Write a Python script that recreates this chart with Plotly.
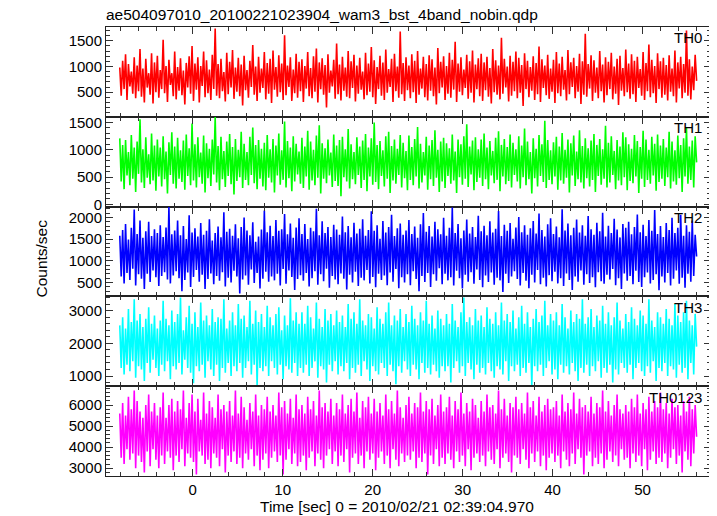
import numpy as np
import plotly.graph_objects as go
from plotly.subplots import make_subplots

title_text = "ae504097010_20100221023904_wam3_bst_4band_nobin.qdp"
x_label = "Time [sec] 0 = 2010/02/21 02:39:04.970"
y_label = "Counts/sec"
band_names = ["TH0", "TH1", "TH2", "TH3", "TH0123"]
t_start, t_end = -8.1, 56.0

th0 = [980, 430, 1110, 560, 1240, 350, 1050, 610, 900, 470, 1180, 380, 1020, 520, 1340, 410, 960, 300, 1150, 590, 870, 450, 1260, 280, 1080,
       500, 1210, 390, 930, 560, 1520, 480, 1010, 310, 1130, 640, 870, 420, 1290, 360, 990, 530, 1160, 440, 920, 260, 1070, 590, 1200, 470,
       1400, 330, 1060, 550, 1180, 300, 1010, 620, 1290, 400, 1120, 480, 940, 350, 1230, 560, 1740, 430, 1050, 380, 1150, 520, 890, 320, 1270,
       460, 1090, 590, 1320, 370, 980, 510, 1170, 420, 1040, 240, 1210, 540, 930, 390, 1110, 600, 1420, 450, 1000, 330, 1190, 490, 960, 580,
       1280, 360, 1070, 470, 1150, 290, 1310, 550, 990, 410, 1220, 500, 1060, 350, 1610, 440, 1020, 600, 1180, 330, 940, 480, 1250, 390, 1090,
       520, 1140, 310, 1010, 570, 1280, 420, 970, 380, 1200, 510, 1350, 300, 1080, 560, 1160, 450, 1030, 200, 1240, 490, 920, 610, 1130, 370,
       1450, 460, 1040, 340, 1190, 530, 980, 410, 1300, 380, 1100, 580, 1230, 320, 1020, 470, 1170, 550, 900, 360, 1270, 440, 1060, 510, 1380,
       400, 1120, 270, 990, 560, 1210, 430, 1080, 350, 1330, 490, 950, 600, 1150, 310, 1250, 520, 1000, 390, 1680, 460, 1070, 330, 1180, 540,
       1020, 380, 1240, 500, 1110, 290, 1300, 450, 960, 570, 1190, 400, 1050, 340, 1220, 530, 1140, 420, 980, 260, 1360, 480, 1090, 590, 1200,
       350, 1010, 470, 1270, 390, 1130, 550, 1480, 310, 1060, 510, 1180, 440, 940, 580, 1230, 370, 1100, 490, 1310, 300, 1040, 560, 1160, 420,
       1250, 330, 1080, 540, 1190, 410, 970, 280, 1340, 500, 1120, 450, 1020, 360, 1560, 470, 1150, 590, 1000, 320, 1210, 430, 1090, 520, 1290,
       380, 1170, 490, 1030, 230, 1260, 560, 1110, 400, 990, 530, 1200, 350, 1070, 460, 1390, 310, 1140, 580, 1020, 440, 1230, 370, 960, 510,
       1130, 290, 1280, 480, 1060, 420, 1190, 550, 930, 340, 1320, 460, 1080, 600, 1170, 380, 1010, 510, 1250, 270, 1100, 450, 1640, 410, 1050,
       570, 1220, 330, 1120, 490, 980, 380, 1300, 520, 1040, 300, 1180, 440, 1090, 560, 1270, 360, 1000, 470, 1150, 250, 1210, 530, 970, 420,
       1330, 500, 1060, 370, 1240, 460, 1110, 310, 1190, 580, 950, 430, 1280, 350, 1070, 520, 1430, 400, 1130, 480, 1010, 290, 1260, 560, 1100,
       390, 1170, 450, 1030, 340, 1220, 510, 960, 420, 1310, 300, 1080, 570, 1190, 380, 1050, 490, 1700, 430, 1140, 360, 1000, 540, 1230, 720]

th1 = [1210, 420, 1090, 280, 1180, 530, 960, 350, 1270, 470, 1040, 230, 1150, 560, 1560, 400, 1010, 300, 1230, 490, 920, 370, 1300, 440, 1080,
       250, 1190, 510, 1040, 330, 1250, 460, 970, 200, 1140, 540, 1320, 380, 1060, 290, 1220, 470, 990, 410, 1170, 270, 1280, 520, 1030, 350,
       1480, 440, 1100, 310, 1230, 500, 950, 380, 1260, 220, 1120, 480, 1020, 340, 1190, 550, 1600, 400, 1070, 260, 1240, 460, 980, 320, 1150,
       520, 1290, 370, 1050, 180, 1200, 430, 1000, 500, 1330, 300, 1110, 450, 960, 350, 1240, 540, 1410, 390, 1090, 280, 1180, 470, 1020, 330,
       1130, 260, 1270, 490, 1010, 400, 1200, 220, 1080, 530, 1300, 360, 990, 450, 1520, 310, 1160, 480, 1040, 240, 1250, 420, 1110, 550, 970,
       380, 1220, 300, 1060, 510, 1350, 270, 1150, 440, 1000, 350, 1260, 490, 1450, 200, 1120, 470, 1030, 390, 1190, 530, 950, 320, 1280, 430,
       1080, 340, 1180, 150, 1240, 500, 1010, 420, 1380, 290, 1100, 460, 960, 370, 1230, 540, 1060, 300, 1170, 450, 1290, 240, 1040, 510, 1210,
       360, 1500, 410, 1090, 280, 1160, 520, 990, 330, 1250, 470, 1330, 210, 1070, 440, 1190, 380, 1020, 540, 1270, 310, 1130, 480, 980, 260,
       1260, 450, 1050, 350, 1200, 510, 1420, 290, 1110, 400, 960, 530, 1240, 270, 1080, 460, 1180, 340, 1360, 490, 1000, 230, 1150, 420, 1220,
       300, 1120, 520, 1030, 380, 1280, 440, 970, 210, 1190, 500, 1100, 360, 1250, 470, 1470, 320, 1060, 550, 1170, 260, 1230, 410, 1010, 490,
       1190, 340, 1300, 460, 1040, 280, 1160, 530, 980, 390, 1220, 450, 1340, 240, 1090, 510, 1200, 370, 1050, 430, 1280, 310, 1130, 540, 1010,
       420, 1250, 290, 1080, 500, 1390, 350, 1150, 460, 960, 200, 1210, 480, 1020, 330, 1270, 520, 1100, 410, 1530, 300, 1180, 450, 990, 370,
       1140, 510, 1240, 270, 1060, 440, 1310, 380, 1000, 490, 1190, 220, 1120, 530, 1260, 340, 970, 460, 1360, 400, 1070, 290, 1210, 480, 1030,
       330, 1170, 450, 1290, 230, 1090, 520, 1200, 360, 1010, 470, 1440, 310, 1130, 400, 1250, 540, 980, 280, 1180, 440, 1060, 350, 1320, 500,
       1230, 260, 1100, 430, 1020, 390, 1270, 510, 1160, 210, 1050, 470, 1350, 320, 1190, 450, 1000, 380, 1240, 530, 1110, 250, 1280, 410, 1080,
       470, 1200, 340, 1040, 500, 1330, 290, 1150, 420, 990, 360, 1260, 480, 1090, 230, 1210, 510, 1400, 380, 1060, 450, 1170, 310, 1250, 770]

th2 = [1580, 640, 1710, 480, 1850, 720, 1490, 560, 1760, 820, 2180, 430, 1620, 690, 1930, 590, 1530, 350, 1680, 700, 1900, 510, 1570, 780, 1730,
       620, 1640, 420, 1820, 650, 1550, 740, 1770, 570, 2250, 480, 1610, 660, 1700, 760, 1930, 600, 1590, 300, 1800, 560, 1500, 730, 2050, 400,
       1650, 630, 1750, 790, 1560, 520, 1870, 680, 1600, 350, 1690, 580, 1960, 710, 1470, 460, 1640, 650, 1790, 540, 1540, 740, 2120, 410, 1670,
       610, 1740, 500, 1580, 770, 1840, 640, 1520, 250, 1780, 570, 2000, 660, 1700, 450, 1590, 800, 1890, 490, 1440, 720, 1560, 360, 1720, 590,
       2160, 750, 1660, 520, 1810, 640, 1570, 550, 1940, 700, 1690, 430, 1730, 810, 2080, 470, 1610, 780, 1860, 630, 1530, 330, 1770, 580, 1980,
       670, 1620, 540, 1850, 720, 1500, 410, 1760, 600, 1680, 760, 2200, 450, 1590, 690, 1910, 530, 1640, 820, 1780, 380, 1550, 650, 1830, 570,
       1720, 460, 1600, 710, 2020, 590, 1660, 340, 1800, 680, 1540, 500, 1880, 750, 1630, 420, 1740, 610, 1960, 550, 1580, 790, 1710, 480, 2140,
       630, 1690, 390, 1820, 700, 1510, 560, 1920, 660, 1650, 440, 1780, 730, 2060, 520, 1570, 810, 1750, 370, 1860, 620, 1600, 500, 1700, 690,
       1940, 440, 1620, 760, 1790, 580, 1530, 300, 1840, 650, 2100, 510, 1670, 720, 1800, 400, 1560, 690, 1900, 540, 1730, 830, 1610, 460, 1990,
       700, 1580, 550, 1760, 620, 2230, 430, 1640, 770, 1850, 600, 1520, 360, 1700, 680, 1950, 520, 1630, 740, 1780, 470, 1550, 800, 2040, 560,
       1680, 390, 1810, 660, 1590, 510, 1910, 730, 1650, 450, 1740, 610, 2150, 550, 1570, 280, 1830, 700, 1690, 490, 1870, 640, 1510, 760, 1770,
       580, 2010, 430, 1660, 720, 1820, 540, 1600, 370, 1750, 680, 1920, 500, 1630, 790, 2090, 460, 1710, 610, 1560, 410, 1840, 670, 1980, 530,
       1620, 750, 1790, 480, 1540, 600, 2190, 420, 1700, 710, 1860, 560, 1590, 330, 1760, 640, 1950, 520, 1650, 780, 1820, 450, 1580, 690, 2030,
       490, 1730, 620, 1600, 390, 1880, 740, 1680, 530, 2110, 470, 1560, 680, 1810, 570, 1640, 810, 1970, 440, 1720, 600, 1540, 350, 1850, 710,
       1760, 540, 1900, 650, 1610, 460, 1780, 770, 2070, 510, 1660, 400, 1830, 620, 1570, 730, 1940, 480, 1690, 560, 2170, 690, 1620, 320, 1800,
       640, 1550, 500, 1870, 720, 1710, 430, 1990, 590, 1640, 780, 1760, 470, 2060, 610, 1580, 380, 1820, 700, 1670, 520, 1930, 650, 1600, 1100]

th3 = [2550, 1250, 2800, 1050, 2450, 1350, 3050, 1150, 2650, 1450, 3350, 950, 2700, 1300, 2900, 1200, 2500, 850, 2750, 1400, 3100, 1100, 2600, 1500, 2850,
       1250, 2450, 1000, 2700, 1350, 3300, 1150, 2750, 1450, 2550, 900, 3000, 1300, 2650, 1200, 2900, 1400, 3400, 1050, 2400, 1500, 2800, 1250, 3150, 1100,
       2600, 780, 2950, 1300, 2500, 1150, 3250, 1350, 2700, 950, 2850, 1450, 2550, 1200, 3050, 1000, 2650, 1350, 2800, 850, 2750, 1250, 3350, 1100, 2450,
       1400, 2700, 1000, 2950, 1300, 2550, 1150, 3200, 1400, 2750, 950, 2850, 1250, 2500, 1450, 3300, 1050, 2600, 1350, 3000, 720, 2650, 1250, 2900, 1150,
       2500, 1300, 3150, 1000, 2800, 1450, 2550, 1250, 2900, 1050, 3100, 1350, 2400, 900, 2850, 1300, 2550, 1200, 3380, 1100, 2700, 1400, 2950, 1000, 2600,
       1250, 2950, 1100, 2600, 1350, 3150, 1000, 2800, 1250, 2450, 1450, 3250, 950, 2750, 1300, 2500, 1200, 3050, 800, 2700, 1350, 2900, 1150, 2550, 1450,
       3000, 1050, 2650, 1300, 2850, 1150, 2500, 1400, 3200, 900, 2750, 1250, 2950, 1100, 2600, 1350, 3350, 1000, 2700, 1450, 2550, 1200, 2900, 850, 2800,
       1300, 2450, 1150, 3100, 1050, 2750, 1400, 2600, 1250, 2950, 1000, 3250, 1350, 2550, 1150, 2850, 750, 2700, 1300, 3050, 1100, 2500, 1450, 2900, 1200,
       2650, 1000, 3150, 1350, 2750, 1200, 2550, 900, 2950, 1400, 2700, 1100, 3300, 1250, 2600, 1050, 2850, 1350, 2450, 1150, 3000, 950, 2750, 1300, 2550,
       1150, 2900, 1300, 2600, 800, 3200, 1250, 2700, 1450, 2500, 1100, 2950, 1300, 3400, 1000, 2650, 1400, 2800, 1200, 2550, 900, 3050, 1350, 2700, 1100,
       2850, 1250, 2500, 1050, 3100, 1400, 2750, 1150, 2600, 950, 2950, 1300, 2550, 1200, 3250, 1050, 2700, 1450, 2900, 850, 2650, 1300, 3000, 1150, 2450,
       1350, 2800, 1000, 3150, 1250, 2600, 1100, 2950, 1400, 2500, 700, 2750, 1300, 3050, 1150, 2650, 1350, 2850, 1000, 3300, 1250, 2550, 1450, 2900, 1050,
       2700, 1200, 2950, 900, 2550, 1350, 3200, 1100, 2800, 1300, 2450, 1050, 3000, 1400, 2650, 1150, 2900, 850, 2750, 1250, 3350, 1100, 2600, 1350, 2800,
       1000, 3050, 1300, 2500, 1150, 2850, 1450, 2700, 950, 3150, 1250, 2600, 1100, 2950, 1350, 2550, 800, 2800, 1200, 3250, 1050, 2700, 1400, 2450, 1250,
       2900, 1100, 2650, 1350, 3100, 900, 2750, 1250, 2550, 1400, 3000, 1150, 2850, 1000, 2600, 1300, 3350, 1100, 2700, 1450, 2500, 850, 2950, 1250, 2800,
       1150, 2600, 1400, 3050, 1000, 2750, 1300, 2550, 1200, 3200, 950, 2850, 1350, 2650, 1100, 2950, 1250, 3300, 900, 2700, 1400, 2550, 1050, 2900, 1900]

th0123 = [5600, 3500, 6100, 3200, 5500, 3900, 6400, 3400, 5800, 3700, 6700, 3000, 6200, 3600, 5700, 3300, 5400, 2800, 6000, 3800, 6500, 3100, 5700, 3900, 6100,
          3400, 5500, 3000, 5900, 3600, 6600, 3200, 5400, 3800, 6000, 3500, 6300, 2900, 5700, 3600, 6200, 3300, 5800, 3900, 6700, 3100, 5400, 3700, 6100, 3500,
          6500, 3300, 5700, 2700, 6300, 3800, 5300, 3600, 6600, 3200, 5600, 3400, 6200, 3000, 5900, 3700, 5400, 3500, 6500, 3100, 5800, 3900, 6000, 2800, 5700,
          3600, 6200, 3300, 5500, 3800, 6700, 3200, 5600, 3500, 6400, 3000, 5900, 3700, 5300, 3400, 6100, 3900, 5700, 3100, 6500, 3600, 5500, 2900, 6000, 3400,
          5800, 3700, 6400, 3000, 5700, 3500, 6000, 3800, 5500, 3300, 6600, 3600, 5900, 2700, 6200, 3400, 5600, 3900, 6300, 3200, 5400, 3700, 6500, 3100, 5800,
          3300, 6000, 3600, 5600, 2900, 6400, 3500, 5800, 3800, 6200, 3100, 5500, 3700, 6700, 3400, 5900, 3000, 6100, 3600, 5700, 3900, 6300, 3200, 5500, 3800,
          6100, 3100, 5800, 3600, 6500, 3300, 5600, 3900, 6000, 2800, 6300, 3500, 5700, 3700, 6600, 3200, 5400, 3600, 6200, 3000, 5900, 3800, 6400, 3400, 5600,
          3700, 6300, 2900, 5700, 3500, 6100, 3800, 5500, 3200, 6500, 3600, 5800, 3000, 6200, 3900, 5600, 3400, 6700, 3100, 5900, 3700, 5400, 3300, 6000, 3600,
          6400, 3400, 5600, 3800, 6100, 3000, 5900, 3500, 6600, 3300, 5700, 3700, 6200, 2700, 5800, 3600, 6300, 3200, 5500, 3900, 6000, 3100, 6500, 3500, 5700,
          3200, 5900, 3700, 6400, 3400, 5500, 3000, 6200, 3800, 5800, 3300, 6600, 3600, 5600, 3100, 6100, 3900, 5700, 2900, 6300, 3500, 6000, 3700, 5400, 3300,
          6200, 3600, 5700, 3100, 6500, 3800, 5900, 3400, 6000, 3200, 5600, 3900, 6700, 3000, 5800, 3500, 6300, 3700, 5500, 3300, 6100, 2800, 5900, 3600, 6400,
          3500, 5800, 3200, 6100, 3900, 5600, 3400, 6600, 3000, 5900, 3700, 6200, 3300, 5500, 3800, 6400, 3100, 5700, 3600, 6000, 2900, 6300, 3500, 5800, 3700,
          5900, 3300, 6200, 3600, 5500, 3000, 6500, 3800, 5700, 3400, 6100, 3100, 5800, 3700, 6600, 3200, 5600, 3900, 6300, 3500, 5900, 2700, 6000, 3600, 5700,
          3800, 6400, 3100, 5600, 3500, 6100, 3200, 5900, 3700, 6700, 3000, 5700, 3400, 6200, 3800, 5500, 3300, 6000, 3600, 6500, 3100, 5800, 3900, 5600, 3400,
          6000, 3500, 5700, 3000, 6300, 3700, 5900, 3300, 6500, 3600, 5600, 3100, 6100, 3900, 5800, 2900, 6400, 3400, 5700, 3800, 6200, 3200, 5900, 3500, 6600,
          3300, 5800, 3700, 6100, 3000, 5600, 3500, 6300, 3900, 5900, 3200, 6000, 3600, 5500, 2800, 6200, 3800, 5700, 3400, 6400, 3100, 5800, 3700, 6000, 4500]

series = [th0, th1, th2, th3, th0123]
colors = ["#ff0000", "#00ff00", "#0000ff", "#00ffff", "#ff00ff"]
y_ranges = [[20, 1770], [-40, 1605], [180, 2250], [690, 3435], [2630, 6900]]
y_dticks = [500, 500, 500, 1000, 1000]
y_minor = [100, 100, 100, 200, 200]

# page body adds an 8px offset; the figure is sized so the plot lands where the reference has it
fig_w, fig_h = 709, 508

fig = make_subplots(rows=5, cols=1, shared_xaxes=True, vertical_spacing=0)

for i, (vals, col) in enumerate(zip(series, colors)):
    t = np.linspace(t_start, t_end, len(vals))
    fig.add_trace(go.Scatter(x=t, y=vals, mode="lines",
                             line=dict(color=col, width=1.6),
                             showlegend=False, hoverinfo="skip"),
                  row=i + 1, col=1)

font_family = "Liberation Sans, Arial, Helvetica, sans-serif"
axis_common = dict(showline=True, linecolor="#222", linewidth=1, mirror="allticks",
                   ticks="inside", ticklen=7, tickcolor="#333", showgrid=False,
                   zeroline=False, tickfont=dict(size=15, color="black", family=font_family))

for i in range(5):
    r = i + 1
    fig.update_xaxes(range=[-9.63, 57.6], tick0=0, dtick=10,
                     minor=dict(ticks="inside", dtick=2, ticklen=4, tickcolor="#333"),
                     showticklabels=(r == 5), row=r, col=1, **axis_common)
    fig.update_yaxes(range=y_ranges[i], tick0=0, dtick=y_dticks[i],
                     minor=dict(ticks="inside", dtick=y_minor[i], ticklen=4, tickcolor="#333"),
                     row=r, col=1, **axis_common)
    xref = "x domain" if r == 1 else f"x{r} domain"
    yref = "y domain" if r == 1 else f"y{r} domain"
    fig.add_annotation(text=band_names[i], xref=xref, yref=yref, x=0.988, y=0.995,
                       xanchor="right", yanchor="top", showarrow=False,
                       font=dict(size=15, color="black", family=font_family))

fig.add_annotation(text=x_label, xref="paper", yref="paper", x=0.481, y=-0.069,
                   showarrow=False, xanchor="center", yanchor="middle",
                   font=dict(size=15.5, color="black", family=font_family))

fig.add_annotation(text=y_label, xref="paper", yref="paper", x=-0.106, y=0.484,
                   textangle=-90, showarrow=False, xanchor="center", yanchor="middle",
                   font=dict(size=15.5, color="black", family=font_family))

fig.update_layout(
    width=fig_w, height=fig_h,
    margin=dict(l=98, r=6, t=19, b=40),
    paper_bgcolor="white", plot_bgcolor="white",
    title=dict(text=title_text, x=98 / fig_w, xanchor="left", y=1 - 7 / fig_h, yanchor="middle",
               font=dict(size=15.5, color="black", family=font_family)),
    font=dict(family=font_family),
)

fig.write_html("out.html")
